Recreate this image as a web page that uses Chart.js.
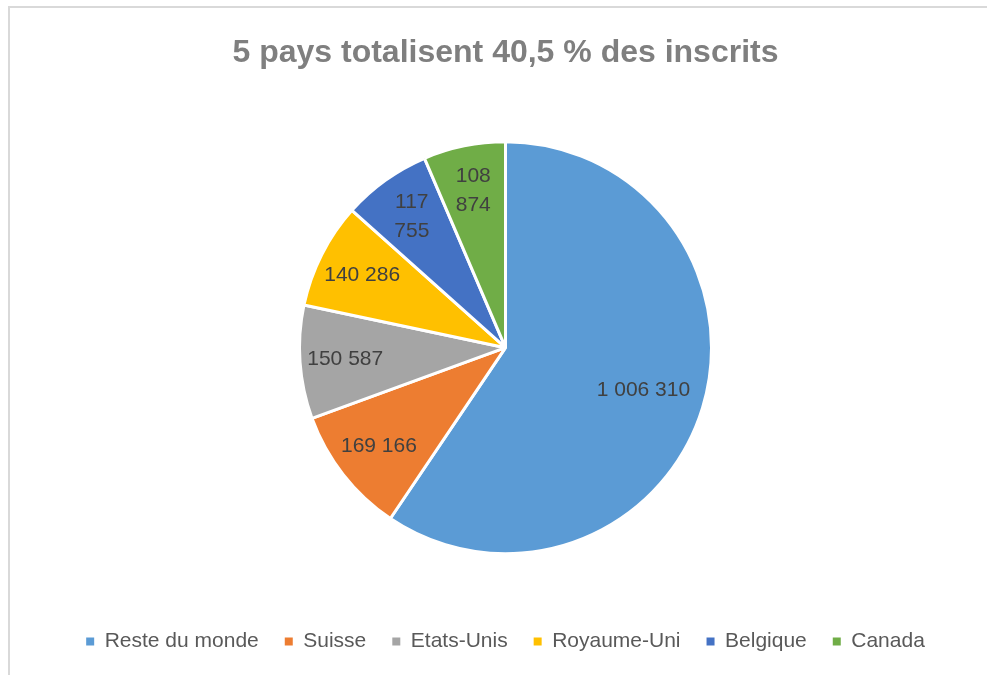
<!DOCTYPE html>
<html><head><meta charset="utf-8">
<script src="https://cdn.jsdelivr.net/npm/chart.js@4/dist/chart.umd.min.js"></script>
<style>
html,body{margin:0;padding:0;background:#fff;overflow:hidden;}
#wrap{position:relative;width:987px;height:675px;}
#frame{position:absolute;left:8px;top:6px;width:1100px;height:800px;border-top:2px solid #d9d9d9;border-left:2px solid #d9d9d9;box-sizing:border-box;}
canvas{position:absolute;left:0;top:0;}
</style></head>
<body>
<div id="wrap"><div id="frame"></div><canvas id="c" width="987" height="675"></canvas></div>
<script>
const titleText = "5 pays totalisent 40,5 % des inscrits";
const categories = ["Reste du monde", "Suisse", "Etats-Unis", "Royaume-Uni", "Belgique", "Canada"];
const values = [1006310, 169166, 150587, 140286, 117755, 108874];
const colors = ["#5B9BD5", "#ED7D31", "#A5A5A5", "#FFC000", "#4472C4", "#70AD47"];

const FONT = "'Liberation Sans', Arial, sans-serif";
function fmt(v){ return String(v).replace(/\B(?=(\d{3})+(?!\d))/g, ' '); }

const labelPlugin = {
  id: 'sliceLabels',
  afterDatasetsDraw(chart){
    const ctx = chart.ctx;
    const meta = chart.getDatasetMeta(0);
    ctx.save();
    ctx.font = "21px " + FONT;
    ctx.fillStyle = "#404040";
    ctx.textAlign = "center";
    ctx.textBaseline = "middle";
    meta.data.forEach((arc, i) => {
      const p = arc.getProps(['x','y','startAngle','endAngle','outerRadius'], true);
      const span = p.endAngle - p.startAngle;
      const mid = (p.startAngle + p.endAngle) / 2;
      const frac = span > Math.PI ? 0.70 : 0.78;
      const r = p.outerRadius * frac;
      const cx = p.x + Math.cos(mid) * r;
      const cy = p.y + Math.sin(mid) * r;
      const txt = fmt(chart.data.datasets[0].data[i]);
      const chord = 2 * r * Math.sin(Math.min(span, Math.PI) / 2);
      if (ctx.measureText(txt).width > chord) {
        const parts = txt.split(' ');
        const lh = 29;
        parts.forEach((t, k) => ctx.fillText(t, cx, cy + (k - (parts.length - 1) / 2) * lh));
      } else {
        ctx.fillText(txt, cx, cy);
      }
    });
    ctx.restore();
  }
};

new Chart(document.getElementById('c'), {
  type: 'pie',
  data: {
    labels: categories,
    datasets: [{
      data: values,
      backgroundColor: colors,
      borderColor: '#ffffff',
      borderWidth: 3,
      radius: 206
    }]
  },
  options: {
    responsive: false,
    animation: false,
    layout: { padding: { left: 24, right: 0, top: 0, bottom: 13 } },
    plugins: {
      title: {
        display: true,
        text: titleText,
        color: '#7f7f7f',
        font: { family: FONT, size: 32, weight: 'bold' },
        padding: { top: 34, bottom: 18 }
      },
      legend: {
        position: 'bottom',
        labels: {
          boxWidth: 8, boxHeight: 8,
          padding: 26,
          color: '#595959',
          font: { family: FONT, size: 21 },
          generateLabels(chart) {
            const items = Chart.overrides.pie.plugins.legend.labels.generateLabels(chart);
            items.forEach(it => { it.lineWidth = 0; it.strokeStyle = 'rgba(0,0,0,0)'; });
            return items;
          }
        }
      },
      tooltip: { enabled: false }
    }
  },
  plugins: [labelPlugin]
});
</script>
</body></html>
